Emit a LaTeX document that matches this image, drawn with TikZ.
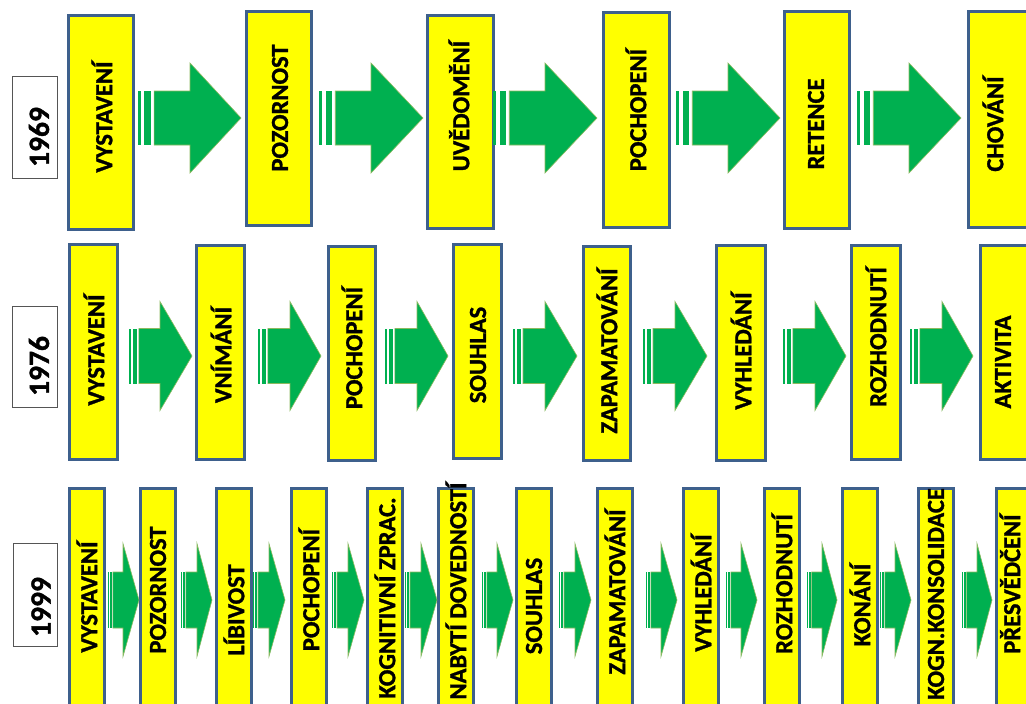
\documentclass[tikz,border=0pt]{standalone}
\usepackage{fontspec}
\setmainfont{Carlito}[BoldFeatures={FakeBold=1.2}]
\usetikzlibrary{shadows}
\definecolor{boxyellow}{RGB}{255,255,0}
\definecolor{boxblue}{RGB}{62,96,140}
\definecolor{arrowgreen}{RGB}{0,176,80}
\definecolor{arrowedge}{RGB}{140,185,95}
\definecolor{yearedge}{RGB}{85,85,85}
\newcommand{\ybox}[5]{\node[ybx, minimum width={(#3)-(#2)-3}, minimum height={(#5)-(#4)-3}] (#1) at ({((#2)+(#3))/2},{((#4)+(#5))/2}) {};}
\newcommand{\btext}[4]{\node[btx] (#1) at (#2,#3) {#4};}
\newcommand{\stripedarrow}[6]{%
  \pgfmathsetmacro{\ssw}{min((#3)-(#1),2*(#5))}%
  \pgfmathsetmacro{\sa}{(#1)+\ssw/32}%
  \pgfmathsetmacro{\sb}{(#1)+\ssw/16}%
  \pgfmathsetmacro{\sc}{(#1)+\ssw/8}%
  \pgfmathsetmacro{\sd}{(#1)+5*\ssw/32}%
  \fill[arrowgreen] (#1,{(#4)-(#6)}) rectangle (\sa,{(#4)+(#6)});
  \fill[arrowgreen] (\sb,{(#4)-(#6)}) rectangle (\sc,{(#4)+(#6)});
  \draw[arrowbody] (\sd,{(#4)-(#6)}) -- (#2,{(#4)-(#6)}) -- (#2,{(#4)-(#5)}) -- (#3,#4) -- (#2,{(#4)+(#5)}) -- (#2,{(#4)+(#6)}) -- (\sd,{(#4)+(#6)}) -- cycle;
}
\begin{document}
\begin{tikzpicture}[x=1pt,y=-1pt,
  ybx/.style={rectangle, draw=boxblue, line width=3pt, fill=boxyellow, inner sep=0pt,
     drop shadow={shadow xshift=1.5pt, shadow yshift=-1.5pt, opacity=0.25, fill=black}},
  btx/.style={rotate=90, inner sep=0pt, text=black, font=\bfseries\fontsize{24.5}{29}\selectfont},
  yrbox/.style={rectangle, draw=yearedge, line width=1pt, fill=white, inner sep=0pt},
  yrtx/.style={rotate=90, inner sep=0pt, text=black, font=\bfseries\fontsize{29.5}{34}\selectfont},
  arrowbody/.style={fill=arrowgreen, draw=arrowedge, line width=0.6pt, line join=miter}]
\useasboundingbox (0,0) rectangle (1026,704);
\clip (0,0) rectangle (1026,704);
\fill[white] (0,0) rectangle (1026,704);

% year labels
\node[yrbox, minimum width=45, minimum height=102] (y1) at (35,127.5) {};
\node[yrbox, minimum width=45, minimum height=101] (y2) at (35,357) {};
\node[yrbox, minimum width=44, minimum height=103] (y3) at (35.5,595) {};
\node[yrtx] (y1t) at (39,137) {1969};
\node[yrtx] (y2t) at (39,366) {1976};
\node[yrtx] (y3t) at (41,607) {1999};

% row 1 boxes
\ybox{a1}{67}{135}{14}{231}
\ybox{a2}{245}{313}{10}{227}
\ybox{a3}{426}{495}{14}{230}
\ybox{a4}{602}{671}{11}{229}
\ybox{a5}{783}{851}{10}{230}
\ybox{a6}{967}{1035}{10}{229}

% row 2 boxes
\ybox{b1}{68}{119}{243}{461}
\ybox{b2}{195}{246}{244}{461}
\ybox{b3}{327}{377}{245}{462}
\ybox{b4}{452}{503}{243}{460}
\ybox{b5}{582}{632}{245}{462}
\ybox{b6}{715}{767}{244}{462}
\ybox{b7}{850}{902}{244}{461}
\ybox{b8}{979}{1030}{244}{461}

% row 3 boxes
\ybox{c1}{68}{106}{487}{709}
\ybox{c2}{139}{177}{487}{709}
\ybox{c3}{215}{253}{487}{709}
\ybox{c4}{290}{328}{487}{709}
\ybox{c5}{366}{404}{487}{709}
\ybox{c6}{437}{475}{487}{709}
\ybox{c7}{515}{553}{487}{709}
\ybox{c8}{596}{634}{487}{709}
\ybox{c9}{682}{720}{487}{709}
\ybox{c10}{763}{801}{487}{709}
\ybox{c11}{841}{879}{487}{709}
\ybox{c12}{917}{955}{487}{709}
\ybox{c13}{995}{1033}{487}{709}

% row 1 arrows
\stripedarrow{138}{190}{241}{118}{55}{27}
\stripedarrow{319}{371}{423}{118}{55}{27}
\stripedarrow{493}{545}{597}{118}{55}{27}
\stripedarrow{676}{728}{780}{118}{55}{27}
\stripedarrow{857}{909}{961}{118}{55}{27}

% row 2 arrows
\stripedarrow{129}{160}{192}{356}{54.5}{27.5}
\stripedarrow{258}{290}{321}{356}{54.5}{27.5}
\stripedarrow{385}{417}{448}{356}{54.5}{27.5}
\stripedarrow{513}{545}{577}{356}{54.5}{27.5}
\stripedarrow{643}{675}{707}{356}{54.5}{27.5}
\stripedarrow{783}{815}{846}{356}{54.5}{27.5}
\stripedarrow{910}{942}{973}{356}{54.5}{27.5}

% row 3 arrows
\stripedarrow{108}{123}{139}{600}{56.5}{28}
\stripedarrow{181}{197}{212}{600}{56.5}{28}
\stripedarrow{253}{269}{285}{600}{56.5}{28}
\stripedarrow{332}{348}{364}{600}{56.5}{28}
\stripedarrow{405}{421}{437}{600}{56.5}{28}
\stripedarrow{482}{497}{513}{600}{56.5}{28}
\stripedarrow{559}{575}{591}{600}{56.5}{28}
\stripedarrow{646}{661}{677}{600}{56.5}{28}
\stripedarrow{726}{741}{757}{600}{56.5}{28}
\stripedarrow{807}{822}{837}{600}{56.5}{28}
\stripedarrow{880}{895}{911}{600}{56.5}{28}
\stripedarrow{962}{977}{992}{600}{56.5}{28}

% row 1 texts
\btext{ta1}{102}{117}{VYSTAVENÍ}
\btext{ta2}{280}{108}{POZORNOST}
\btext{ta3}{459}{106}{UVĚDOMĚNÍ}
\btext{ta4}{636}{110}{POCHOPENÍ}
\btext{ta5}{816}{124}{RETENCE}
\btext{ta6}{993}{124}{CHOVÁNÍ}

% row 2 texts
\btext{tb1}{94}{350}{VYSTAVENÍ}
\btext{tb2}{221}{355}{VNÍMÁNÍ}
\btext{tb3}{352}{348}{POCHOPENÍ}
\btext{tb4}{478}{355}{SOUHLAS}
\btext{tb5}{607}{351}{ZAPAMATOVÁNÍ}
\btext{tb6}{741}{351}{VYHLEDÁNÍ}
\btext{tb7}{876}{337}{ROZHODNUTÍ}
\btext{tb8}{1003}{362}{AKTIVITA}

% row 3 texts
\btext{tc1}{87}{597}{VYSTAVENÍ}
\btext{tc2}{158}{590}{POZORNOST}
\btext{tc3}{234}{610}{LÍBIVOST}
\btext{tc4}{309}{590}{POCHOPENÍ}
\btext{tc5}{385}{598}{KOGNITIVNÍ ZPRAC.}
\btext{tc6}{456}{591}{NABYTÍ DOVEDNOSTÍ}
\btext{tc7}{534}{606}{SOUHLAS}
\btext{tc8}{615}{592}{ZAPAMATOVÁNÍ}
\btext{tc9}{701}{593}{VYHLEDÁNÍ}
\btext{tc10}{782}{584}{ROZHODNUTÍ}
\btext{tc11}{860}{605}{KONÁNÍ}
\btext{tc12}{936}{594}{KOGN.KONSOLIDACE}
\btext{tc13}{1010}{584}{PŘESVĚDČENÍ}
\end{tikzpicture}
\end{document}
